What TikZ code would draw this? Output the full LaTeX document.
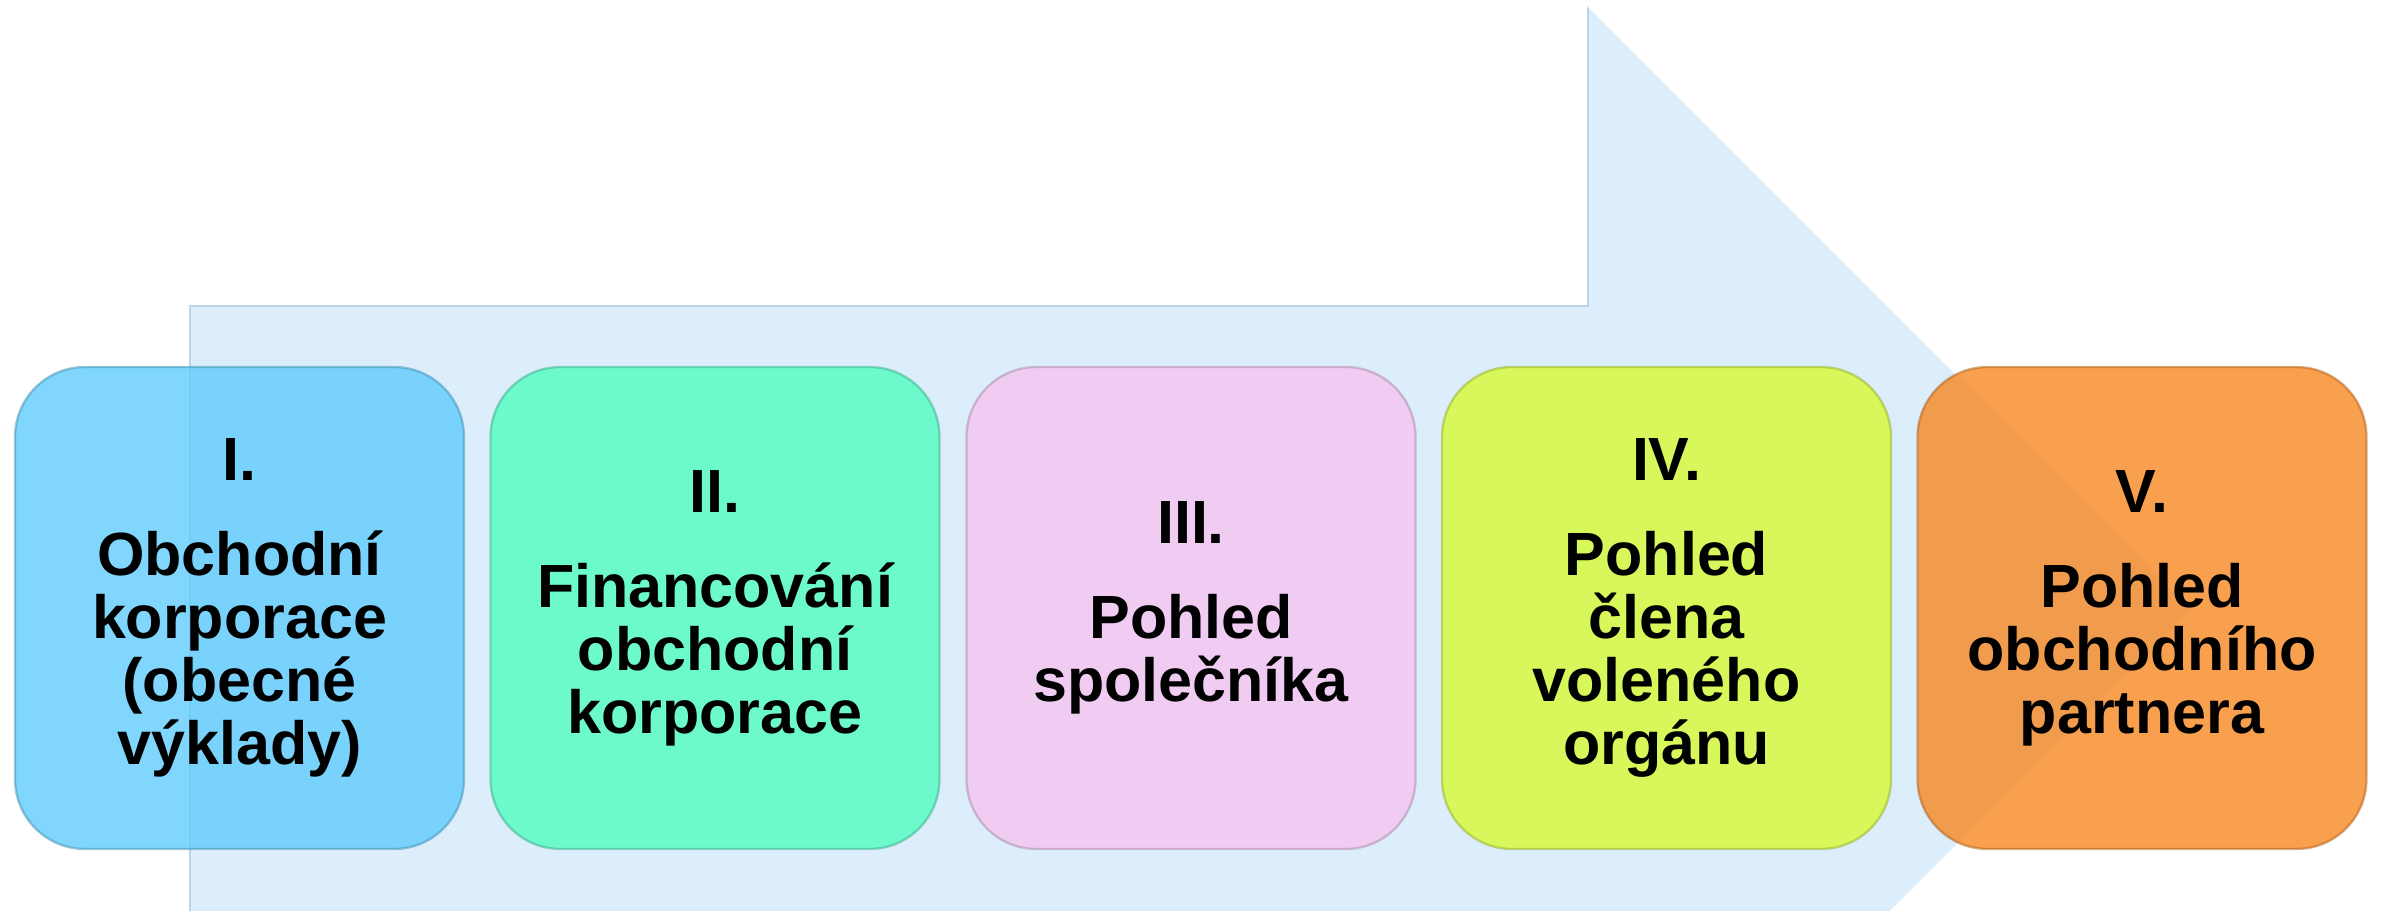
\documentclass[tikz,border=0pt]{standalone}
\usepackage{fontspec}
\setmainfont{Liberation Sans}
\usepackage{tikz}

\definecolor{arrowfill}{RGB}{220,238,252}
\definecolor{arrowline}{RGB}{190,212,234}
\definecolor{korpblue}{RGB}{96,204,251}
\definecolor{finmint}{RGB}{80,252,192}
\definecolor{spolpink}{RGB}{245,196,240}
\definecolor{organlime}{RGB}{215,250,50}
\definecolor{partnerorange}{RGB}{247,136,34}

\tikzset{
  phase/.style={rectangle, rounded corners=21pt, minimum width=134.7pt, minimum height=144.6pt,
    fill opacity=0.8, draw opacity=0.5, text opacity=1, line width=0.7pt, align=center,
    font=\bfseries\fontsize{18.3pt}{18.9pt}\selectfont},
}

\begin{document}
\begin{tikzpicture}[x=0.3pt,y=-0.3pt]
    \clip (0,0) rectangle (2382,911);
%(190,306),(1588,306),(1588,5),(2193,610),(1588,1215),(1588,914),(190,914)
    \fill[arrowfill] (190,914) -- (190,306) -- (1588,306) -- (1588,5) -- (2193,610) -- (1588,1215) -- (1588,914) -- cycle;
    \draw[arrowline, line width=0.6pt] (190,914) -- (190,306) -- (1588,306) -- (1588,5);
    \draw[white, line width=0.9pt] (1588,5) -- (2193,610) -- (1588,1215);

    \node[phase, fill=korpblue, draw=korpblue!70!black] (Korp) at (239.5,608) {I.\\[9.6pt]Obchodní\\korporace\\(obecné\\výklady)};
    \node[phase, fill=finmint, draw=finmint!70!black] (Fin) at (715,608) {II.\\[9.6pt]Financování\\obchodní\\korporace};
    \node[phase, fill=spolpink, draw=spolpink!70!black] (Spol) at (1191,608) {III.\\[9.6pt]Pohled\\společníka};
    \node[phase, fill=organlime, draw=organlime!70!black] (Organ) at (1666.5,608) {IV.\\[9.6pt]Pohled\\člena\\voleného\\orgánu};
    \node[phase, fill=partnerorange, draw=partnerorange!70!black] (Partner) at (2142,608) {V.\\[9.6pt]Pohled\\obchodního\\partnera};

\end{tikzpicture}
\end{document}
